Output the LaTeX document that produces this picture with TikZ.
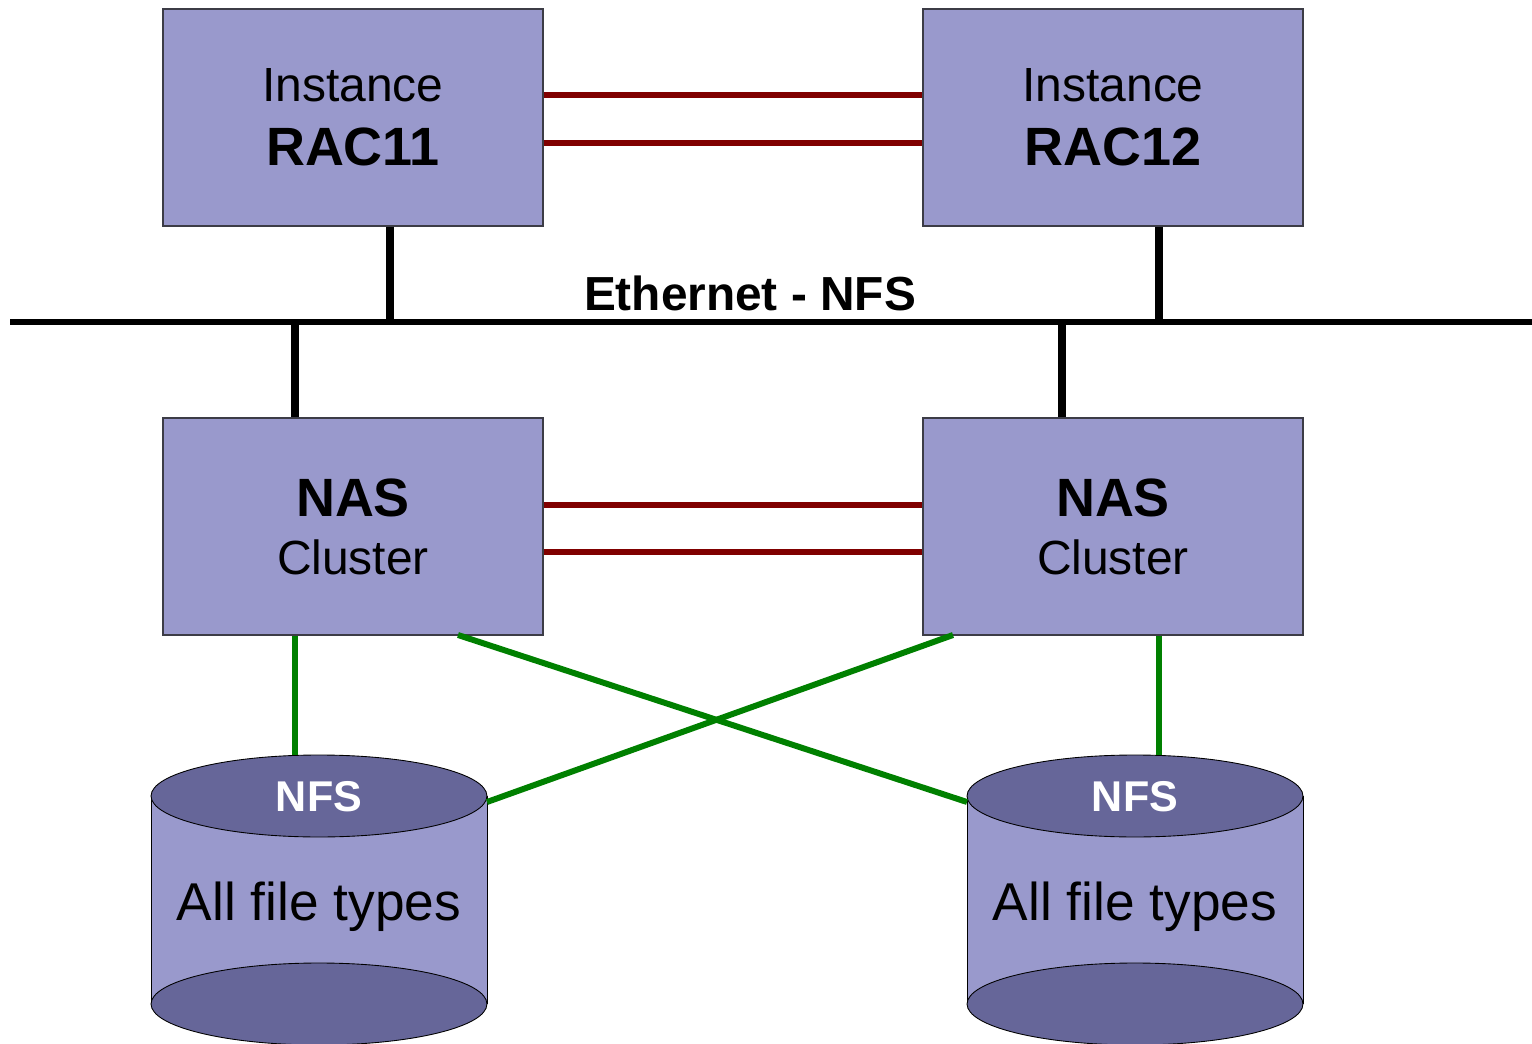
\documentclass[tikz,border=0pt]{standalone}
\usepackage{fontspec}
\setmainfont{Liberation Sans}
\usetikzlibrary{shapes.geometric}
\definecolor{boxfill}{RGB}{153,153,204}
\definecolor{cyltop}{RGB}{102,102,153}
\definecolor{linkred}{RGB}{128,0,0}
\definecolor{linkgreen}{RGB}{0,128,0}
\definecolor{edgegray}{RGB}{60,60,70}
\begin{document}
\begin{tikzpicture}[x=0.02cm,y=-0.02cm,
  unitbox/.style={draw=edgegray,line width=0.7pt,fill=boxfill,minimum width=7.6cm,minimum height=4.34cm,inner sep=0pt,align=center},
  ethline/.style={line width=3.6pt,black},
  droplink/.style={line width=4pt,black},
  redlink/.style={line width=2.9pt,linkred},
  greenlink/.style={line width=3.4pt,linkgreen},
  cylcap/.style={draw=black,line width=0.5pt,fill=cyltop},
  captop/.style={ellipse,draw=black,line width=0.5pt,fill=cyltop,minimum width=6.72cm,minimum height=1.64cm,inner sep=0pt}
]
\useasboundingbox (0,0) rectangle (1532,1044);

% instance boxes
\node[unitbox,font=\fontsize{27.3}{36.3}\selectfont] (rac11) at (353,117.5) {Instance\\{\fontsize{30.7}{36.3}\selectfont\bfseries RAC11}};
\node[unitbox,font=\fontsize{27.3}{36.3}\selectfont] (rac12) at (1113,117.5) {Instance\\{\fontsize{30.7}{36.3}\selectfont\bfseries RAC12}};

% NAS boxes
\node[unitbox,font=\fontsize{27.3}{33}\selectfont] (nas1) at (353,526.5) {{\fontsize{30.7}{33}\selectfont\bfseries NAS}\\Cluster};
\node[unitbox,font=\fontsize{27.3}{33}\selectfont] (nas2) at (1113,526.5) {{\fontsize{30.7}{33}\selectfont\bfseries NAS}\\Cluster};

% interconnects
\draw[redlink] ([yshift=0.45cm]rac11.east) -- ([yshift=0.45cm]rac12.west);
\draw[redlink] ([yshift=-0.51cm]rac11.east) -- ([yshift=-0.51cm]rac12.west);
\draw[redlink] ([yshift=0.43cm]nas1.east) -- ([yshift=0.43cm]nas2.west);
\draw[redlink] ([yshift=-0.51cm]nas1.east) -- ([yshift=-0.51cm]nas2.west);

% ethernet bus
\coordinate (ethL) at (10,322);
\coordinate (ethR) at (1532,322);
\coordinate (e1) at (390,322);
\coordinate (e2) at (1159,322);
\coordinate (e3) at (295,322);
\coordinate (e4) at (1062,322);
\draw[droplink] (rac11.south -| e1) -- (e1);
\draw[droplink] (rac12.south -| e2) -- (e2);
\draw[droplink] (e3) -- (nas1.north -| e3);
\draw[droplink] (e4) -- (nas2.north -| e4);
\draw[ethline] (ethL) -- (ethR);
\node[font=\fontsize{27.2}{30}\selectfont\bfseries,anchor=base,inner sep=0pt] (ethlabel) at (750,311) {Ethernet - NFS};

% cylinders
\fill[boxfill] (151,796) rectangle (487,1004);
\draw[line width=0.5pt] (151,796) -- (151,1004) (487,796) -- (487,1004);
\draw[cylcap] (319,1004) ellipse [x radius=3.36cm, y radius=0.82cm];
\node[captop] (disk1) at (319,796) {};
\node[font=\fontsize{24.5}{28}\selectfont\bfseries,text=white,anchor=base,inner sep=0pt] (disk1nfs) at (319,811) {NFS};
\node[font=\fontsize{30.3}{34}\selectfont,anchor=base,inner sep=0pt] (disk1txt) at (319,920) {All file types};

\fill[boxfill] (967,796) rectangle (1303,1004);
\draw[line width=0.5pt] (967,796) -- (967,1004) (1303,796) -- (1303,1004);
\draw[cylcap] (1135,1004) ellipse [x radius=3.36cm, y radius=0.82cm];
\node[captop] (disk2) at (1135,796) {};
\node[font=\fontsize{24.5}{28}\selectfont\bfseries,text=white,anchor=base,inner sep=0pt] (disk2nfs) at (1135,811) {NFS};
\node[font=\fontsize{30.3}{34}\selectfont,anchor=base,inner sep=0pt] (disk2txt) at (1135,920) {All file types};

% storage links
\coordinate (g1) at (295,755);
\coordinate (g2) at (1159,755);
\coordinate (g3) at (967,802);
\coordinate (g4) at (487,802);
\coordinate (n1) at (458,635);
\coordinate (n2) at (953,635);
\draw[greenlink] (nas1.south -| g1) -- (g1);
\draw[greenlink] (nas2.south -| g2) -- (g2);
\draw[greenlink] (n1) -- (g3);
\draw[greenlink] (n2) -- (g4);
\end{tikzpicture}
\end{document}
